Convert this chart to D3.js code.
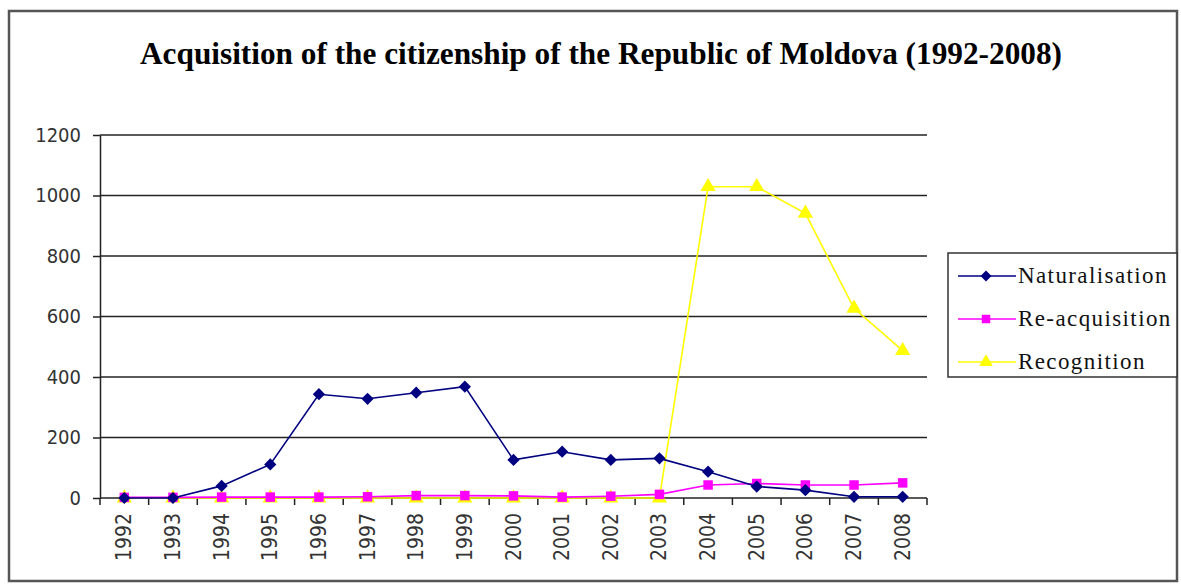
<!DOCTYPE html>
<html>
<head>
<meta charset="utf-8">
<script src="https://cdn.jsdelivr.net/npm/d3@7"></script>
<style>
  body { margin: 0; background: #fff; }
</style>
</head>
<body>
<div id="chart"></div>
<script>
// Values
const years = ['1992', '1993', '1994', '1995', '1996', '1997', '1998', '1999', '2000',
    '2001', '2002', '2003', '2004', '2005', '2006', '2007', '2008']
const naturalisation = [0, 0, 40, 111, 343, 328, 348, 368, 126, 153, 126, 131, 87, 38, 26, 4, 4]
const reacquisition = [2, 2, 3, 3, 3, 4, 8, 8, 7, 3, 6, 12, 43, 48, 43, 43, 50]
const recognition = [0, 0, 0, 0, 0, 0, 0, 0, 0, 0, 0, 0, 1029, 1029, 941, 627, 487]
const yTicks = [0, 200, 400, 600, 800, 1000, 1200]

const W = 1181, H = 588
const plot = { left: 100, right: 927, top: 135, bottom: 498 }
const AXIS_FONT = '"DejaVu Sans Condensed", "DejaVu Sans", sans-serif'

const svg = d3.select('#chart')
    .append('svg')
    .attr('width', W)
    .attr('height', H)

// outer chart frame
svg.append('rect')
    .attr('x', 9).attr('y', 11)
    .attr('width', 1168).attr('height', 570)
    .style('fill', '#fff')
    .style('stroke', '#555')
    .style('stroke-width', 2.5)

svg.append('text')
    .attr('x', 601)
    .attr('y', 64)
    .attr('text-anchor', 'middle')
    .attr('textLength', 922)
    .attr('lengthAdjust', 'spacingAndGlyphs')
    .style('font-family', '"Liberation Serif", "DejaVu Serif", serif')
    .style('font-weight', 'bold')
    .style('font-size', '31px')
    .text('Acquisition of the citizenship of the Republic of Moldova (1992-2008)')

const x = d3.scaleBand()
    .domain(years)
    .range([plot.left, plot.right])

const y = d3.scaleLinear()
    .domain([0, 1200])
    .range([plot.bottom, plot.top])

const cx = d => x(d) + x.bandwidth() / 2

// gridlines
svg.append('g')
    .selectAll('line')
    .data(yTicks.slice(1))
    .enter()
    .append('line')
    .attr('x1', plot.left).attr('x2', plot.right)
    .attr('y1', d => y(d)).attr('y2', d => y(d))
    .style('stroke', '#222')
    .style('stroke-width', 1.5)

// y axis
const yAxis = svg.append('g')
    .attr('transform', `translate(${plot.left},0)`)
    .call(d3.axisLeft(y).tickValues(yTicks).tickFormat(d3.format('d'))
        .tickSize(7).tickSizeOuter(0).tickPadding(12))
yAxis.select('.domain').style('stroke', '#222').style('stroke-width', 1.5)
yAxis.selectAll('.tick line').style('stroke', '#222').style('stroke-width', 1.5)
yAxis.selectAll('text')
    .style('font-family', AXIS_FONT)
    .style('font-size', '20px')
    .style('fill', '#333')

// x axis, ticks sit between categories
const xAxis = svg.append('g')
    .attr('transform', `translate(0,${plot.bottom})`)
xAxis.append('line')
    .attr('x1', plot.left).attr('x2', plot.right)
    .style('stroke', '#222').style('stroke-width', 1.5)
xAxis.selectAll('.sep')
    .data(years.concat(['end']))
    .enter()
    .append('line')
    .attr('class', 'sep')
    .attr('x1', (d, i) => plot.left + i * x.step())
    .attr('x2', (d, i) => plot.left + i * x.step())
    .attr('y1', 0).attr('y2', 7)
    .style('stroke', '#222').style('stroke-width', 1.5)
xAxis.selectAll('.lbl')
    .data(years)
    .enter()
    .append('text')
    .attr('class', 'lbl')
    .attr('transform', d => `translate(${cx(d) + 7},15) rotate(-90)`)
    .attr('text-anchor', 'end')
    .style('font-family', AXIS_FONT)
    .style('font-size', '21px')
    .style('fill', '#333')
    .text(d => d)

const series = [
    { name: 'Naturalisation', values: naturalisation, color: '#000080', shape: d3.symbolSquare, size: 75, rot: 45 },
    { name: 'Re-acquisition', values: reacquisition, color: '#ff00ff', shape: d3.symbolSquare, size: 90, rot: 0 },
    { name: 'Recognition', values: recognition, color: '#ffff00', shape: d3.symbolTriangle, size: 100, rot: 0 }
]

const line = d3.line()
    .x((d, i) => cx(years[i]))
    .y(d => y(d))

// draw last series first so Naturalisation stays on top
series.slice().reverse().forEach(s => {
    const g = svg.append('g')
    g.append('path')
        .attr('d', line(s.values))
        .style('fill', 'none')
        .style('stroke', s.color)
        .style('stroke-width', 1.6)
    g.selectAll('path.pt')
        .data(s.values)
        .enter()
        .append('path')
        .attr('class', 'pt')
        .attr('transform', (d, i) => `translate(${cx(years[i])},${y(d)}) rotate(${s.rot})`)
        .attr('d', d3.symbol().type(s.shape).size(s.size))
        .style('fill', s.color)
})

// legend
const legend = svg.append('g')
legend.append('rect')
    .attr('x', 948).attr('y', 253)
    .attr('width', 229).attr('height', 124)
    .style('fill', '#fff')
    .style('stroke', '#333')
    .style('stroke-width', 1.5)

const item = legend.selectAll('.item')
    .data(series)
    .enter()
    .append('g')
    .attr('class', 'item')
    .attr('transform', (d, i) => `translate(0,${276 + i * 43})`)
item.append('line')
    .attr('x1', 958).attr('x2', 1016)
    .style('stroke', d => d.color)
    .style('stroke-width', 1.6)
item.append('path')
    .attr('transform', d => `translate(986,0) rotate(${d.rot})`)
    .attr('d', d => d3.symbol().type(d.shape).size(d.size * 0.8)())
    .style('fill', d => d.color)
item.append('text')
    .attr('x', 1018)
    .attr('y', 7)
    .style('font-family', '"Liberation Serif", serif')
    .style('font-size', '23px')
    .style('letter-spacing', '1.4px')
    .style('fill', '#111')
    .text(d => d.name)
</script>
</body>
</html>
